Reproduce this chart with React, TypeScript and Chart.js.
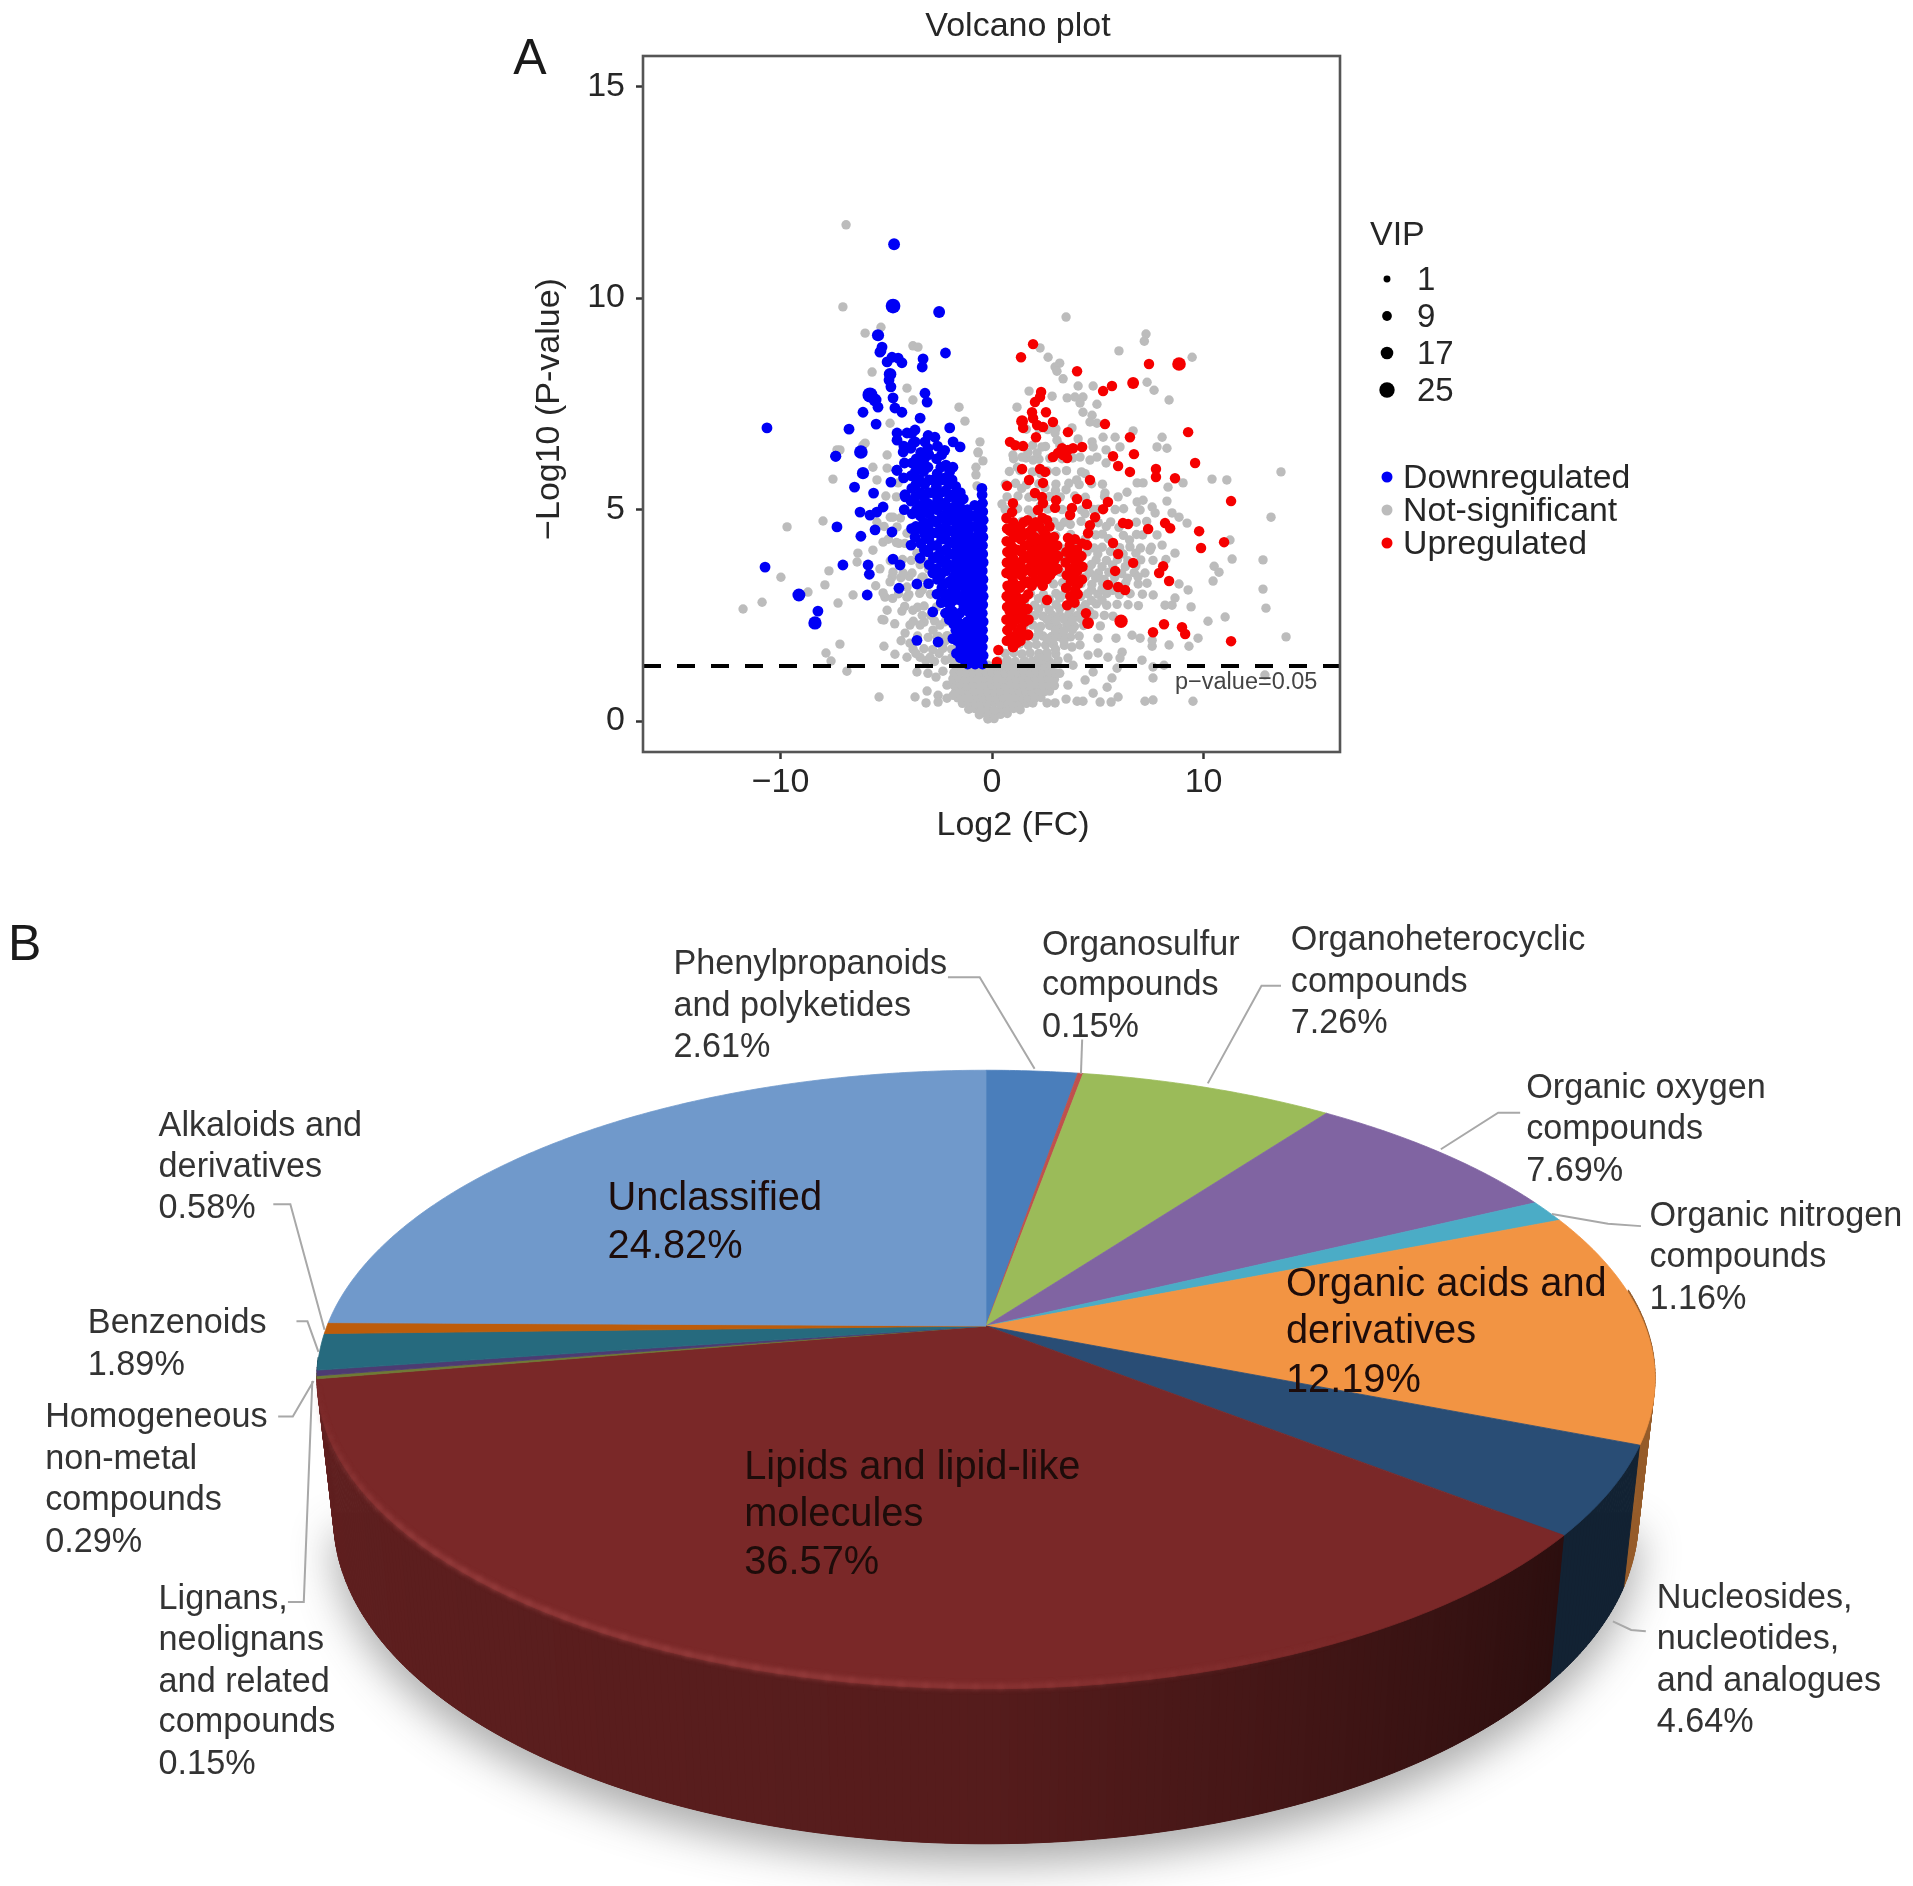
import React, { useEffect, useRef } from "react";
import { Chart, registerables } from "chart.js";

Chart.register(...registerables);

// ---------- Panel A data: flat lists of x, y pairs ----------
const notSignificant = [
-.2,.05,.1,.06,-.6,.15,-.25,.17,.12,.14,.4,.16,.72,.18,-1.1,.28,-.82,.3,-.5,.27,-.2,.29,.1,.26,.42,.3,.7,.28,1.02,.3,1.33,.27,
-1.4,.42,-1.12,.44,-.78,.41,-.5,.43,-.22,.42,.11,.44,.4,.41,.73,.43,1,.42,1.31,.44,1.62,.42,1.93,.43,
-1.62,.55,-1.3,.57,-1.01,.54,-.7,.56,-.41,.55,-.1,.57,.2,.55,.52,.56,.8,.54,1.1,.57,1.42,.55,1.7,.56,2.02,.54,2.31,.56,
-1.72,.7,-1.4,.72,-1.1,.69,-.8,.71,-.5,.7,-.2,.72,.1,.7,.4,.71,.7,.69,1,.72,1.3,.7,1.6,.71,1.9,.69,2.2,.72,2.5,.7,2.72,.71,
-1.8,.85,-1.5,.87,-1.2,.84,-.9,.86,-.6,.85,-.3,.87,0,.85,.3,.86,.6,.84,.9,.87,1.2,.85,1.5,.86,1.8,.84,2.1,.87,2.4,.85,2.7,.86,2.95,.84,
-1.85,1,-1.55,1.02,-1.25,.99,-.95,1.01,-.65,1,-.35,1.02,-.05,1,.25,1.01,.55,.99,.85,1.02,1.15,1,1.45,1.01,1.75,.99,2.05,1.02,2.35,1,2.65,1.01,2.95,.99,
-1.8,1.15,-1.5,1.17,-1.2,1.14,-.9,1.16,-.6,1.15,-.3,1.17,0,1.15,.3,1.16,.6,1.14,.9,1.17,1.2,1.15,1.5,1.16,1.8,1.14,2.1,1.17,2.4,1.15,2.7,1.16,3,1.14,
-1.7,1.3,-1.4,1.31,-1.1,1.29,-.2,1.32,.1,1.3,.4,1.31,.7,1.29,1,1.32,1.3,1.3,1.6,1.31,1.9,1.29,2.2,1.32,2.5,1.3,2.8,1.31,
.3,1.42,.72,1.44,1.1,1.41,1.53,1.43,1.9,1.42,2.3,1.44,2.71,1.41,3.12,1.43,.62,1.6,1.03,1.62,1.41,1.59,1.8,1.61,2.22,1.6,2.6,1.62,3.01,1.59,
.93,1.8,1.3,1.82,1.72,1.79,2.1,1.81,2.53,1.8,2.9,1.82,3.42,1.79,1.2,2.02,1.62,2,2.03,1.98,2.41,2.01,2.82,2,3.33,2.02,3.71,1.99,4.12,2.01,
1.51,2.25,1.93,2.27,2.3,2.24,2.72,2.26,3.1,2.25,3.53,2.27,3.9,2.24,4.33,2.26,5.12,2.25,1.6,2.52,2.02,2.5,2.41,2.48,2.83,2.51,3.2,2.5,3.62,2.52,4.01,2.49,4.82,2.51,5.31,2.5,5.72,2.48,
1.53,2.76,2.01,2.74,2.52,2.77,3.03,2.75,3.51,2.73,3.92,2.76,4.41,2.75,4.93,2.77,5.42,2.74,5.91,2.76,6.43,2.75,6.92,2.73,
1.82,3.01,2.43,2.99,3.02,3.02,3.41,3,4.03,2.98,4.52,3.01,5.01,3,5.43,3.02,6.02,2.99,6.53,3.01,7.11,3,7.62,2.98,
2.22,3.26,2.91,3.24,3.33,3.27,4.21,3.25,4.72,3.23,5.23,3.26,5.71,3.25,6.32,3.27,6.91,3.24,7.33,3.26,
2.52,3.5,3.23,3.52,4.02,3.49,4.61,3.51,5.03,3.5,5.52,3.52,6.13,3.49,6.72,3.51,7.23,3.5,
3.01,3.8,3.42,3.82,4.13,3.79,4.92,3.81,5.41,3.8,5.93,3.82,6.42,3.79,7.03,3.81,7.61,3.8,8.22,3.82,
3.22,4.1,3.91,4.12,4.83,4.09,5.21,4.11,6.03,4.1,6.52,4.12,7.02,4.09,7.53,4.11,
1.52,4.4,2.23,4.42,3.01,4.39,3.72,4.41,4.91,4.4,5.22,4.42,6.21,4.39,6.83,4.41,7.12,4.4,
.83,4.7,1.41,4.72,2.42,4.69,2.93,4.71,3.42,4.7,4.21,4.72,5.02,4.69,5.61,4.71,6.82,4.7,7.31,4.72,
.62,5,1.21,5.02,1.72,4.99,2.63,5.01,3.31,5,3.72,5.02,4.23,4.99,5.03,5.01,5.82,5,6.22,5.02,
.71,5.3,1.23,5.32,1.74,5.29,2.72,5.31,3.23,5.3,3.91,5.32,4.41,5.29,5.32,5.31,
.63,5.6,1.11,5.62,1.63,5.59,2.21,5.61,3.02,5.6,3.63,5.62,4.12,5.59,4.71,5.61,5.22,5.6,
.82,5.9,1.33,5.92,1.91,5.89,2.62,5.91,3.03,5.9,3.52,5.92,4.23,5.89,1.02,6.2,1.61,6.22,2.22,6.19,2.73,6.21,3.31,6.2,3.82,6.22,
1.33,6.5,1.92,6.52,2.53,6.49,3.21,6.51,1.62,6.9,2.21,6.92,2.63,6.89,3.02,6.91,
-1.82,1.42,-2.21,1.44,-2.72,1.41,-3.13,1.43,-1.91,1.7,-2.32,1.72,-2.81,1.69,-3.22,1.71,-3.73,1.7,-2.12,2.02,-2.53,2,-3.02,1.98,-3.52,2.01,
-2.21,2.35,-2.72,2.37,-3.21,2.34,-3.72,2.36,-2.62,2.7,-3.21,2.72,-3.52,2.69,-4.13,2.71,-2.91,3,-3.42,3.02,-3.93,2.99,-4.42,3.01,
-3.31,3.4,-3.92,3.42,-4.31,3.39,-4.72,3.41,-3.82,3.8,-4.23,3.82,-4.81,3.79,-4.12,4.2,-4.52,4.22,-4.33,4.8,-4.81,4.82,-4.52,5.3,-5.02,5.32,
3.5,9.55,7.28,9.15,7.2,8.98,6,8.75,9.46,8.6,2.27,8.82,2.65,8.6,3.2,8.46,2.98,8.37,3.07,8.27,3.36,8.09,4.07,7.92,4.78,7.92,7.33,8.01,7.66,7.82,8.37,7.59,
1.75,7.8,2.84,7.68,1.18,7.42,3.55,7.64,3.92,7.66,4.3,7.66,4.16,7.52,4.96,7.49,4.3,7.3,4.73,7.23,4.63,7.07,4.96,7.04,2.98,6.81,3.07,6.64,3.78,6.93,4.07,6.67,
4.73,6.6,4.78,6.48,5.25,6.71,5.82,6.71,6.05,6.48,6.67,6.86,8.04,6.71,7.8,6.48,8.27,6.45,5.39,6.41,4.96,6.24,4.63,6.17,5.39,6.1,4.16,6.24,.99,6.29,1.42,6.24,1.94,6.17,2.36,6.48,2.13,6.34,
10.4,5.72,11.1,5.7,13.66,5.89,9.03,5.63,8.32,5.53,6.86,5.63,7.14,5.63,6.38,5.41,5.96,5.3,5.34,5.39,8.27,5.2,13.19,4.82,.47,5.13,6.86,5.18,7.14,5.22,7.57,5.06,7,4.99,7.71,4.92,
8.51,4.92,8.84,4.82,9.22,4.68,7.8,4.4,8.04,4.16,11.25,4.28,8.65,3.97,7.47,4.04,12.81,3.81,11.35,3.83,10.5,3.66,10.73,3.52,10.45,3.31,12.81,3.12,12.95,2.67,
9.27,3.1,8.84,3.24,9.41,2.7,8.65,2.91,8.51,2.74,8.18,2.74,10.21,2.36,11.02,2.46,9.74,1.96,9.31,1.77,8.37,1.8,7.57,1.77,7.57,1.91,13.9,1.99,7,1.96,6.62,2.03,5.86,1.96,5.01,1.96,
7.09,1.44,6.15,1.63,6.05,1.49,5.48,1.51,5.01,1.61,4.54,1.56,5.91,1.25,7.61,1.28,8.13,1.32,12.9,1.09,7.61,1.02,7.23,.47,7.61,.5,9.5,.47,5.96,.57,5.63,.45,5.11,.45,4.78,.66,4.3,.47,4.02,.47,
5.44,.8,5.67,1.02,4.78,1.16,4.4,.97,3.59,.85,3.5,.52,2.98,.43,2.6,.43,3.2,1.13,3.78,1.75,4.16,1.8,3.59,1.49,3.83,1.32,3.2,1.99,2.88,1.96,
-7.52,5.72,-7.99,4.73,-9.69,4.59,-9.98,3.4,-10.87,2.81,-11.77,2.65,-7.71,3.55,-7.9,3.22,-8.7,3.05,-7.28,2.79,-6.57,2.98,-7.19,1.82,-7.85,1.61,-7.61,1.42,-6.86,1.18,
-5.11,2.39,-5.11,1.77,-4.59,1.58,-4.26,2.6,-5.34,.57,-3.64,.57,-3.12,.43,-3.07,.71,-2.55,.61,-2.55,.45,-2.13,.54,-1.84,.61,-2.13,.85,-3.55,1.16,-3.03,1.13,-2.65,1.04,-2.32,1.18,
-6.34,3.97,-6.38,3.76,-5.63,4.04,-5.15,4.23,-5.06,2.93,-4.96,2.62,-5.15,3.03,-4.82,3.29,-4.68,3.52,-3.78,3.5,-4.02,2.93,-3.74,2.62,-4.02,3.17,-3.26,3.4,-3.07,3.74,-3.88,2.27,-3.4,2.27,-4.11,2.08,-3.88,1.84,-2.79,2.15,-2.46,2.27,-3.4,1.51,-4.02,1.51,-2.93,1.51,-2.32,1.84,
-4.68,4.82,-4.49,4.59,-4.02,4.44,-3.55,3.97,-5.44,4.7,-4.96,6.29,-5.63,6,-4.96,5.98,-7.19,6.41,-6.1,6.52,-.66,6.34,-.43,6.15,-.76,5.82,
-6.9,11.73,-7.05,9.79,-6,9.17,-5.25,9.31,-3.74,8.87,-3.5,8.84,-5.67,8.25,-4.02,7.87,-3.74,7.59,-1.56,7.42,-1.28,7.09,-.57,6.6,-.66,6.36,-.76,6,-.71,5.56,-6,6.57,-5.44,5.7,-4.44,5.63,-7.33,6.41,-4.82,7.04,
2.2,1.5,2.6,1.52,3,1.7,3.4,1.9,2.6,1.95,3,2.15,3.4,2.13,3.8,2.16,2.2,2.14,2.6,2.4,3,2.38,3.4,2.41,3.8,2.39,4.2,2.42,4.6,2.6,2.2,2.65,2.7,2.63,3.2,2.66,3.7,2.64,4.2,2.65,4.7,2.85,5.2,2.86,2.2,2.9,2.7,2.88,3.2,2.91,4.2,2.95,4.7,3.1,5.2,3.12,5.7,3.09,6.2,3.11,
4.4,3.4,4.9,3.38,5.3,3.35,5.8,3.4,6.4,3.38,6.9,3.41,4.7,3.7,5.2,3.65,5.7,3.69,6.3,3.65,6.8,3.67,4.5,4,5,3.95,5.6,4.01,6.2,3.95,6.8,3.97,4.4,4.3,5.5,4.31,6.5,4.28,4.6,4.55,5.4,4.6,6,4.58,3.2,4.6,3.7,4.65,4.4,4.9,4.8,5,1.9,4.9,2.3,5.1,3,5.45,3.5,5.47,1.4,5.5,2,5.3,2.5,5.52,4,5.7,4.4,5.85,1.2,6,2.3,5.85,1.7,6.35,
-5.5,3.2,-5.3,3.6,-5.2,2.4,-4.6,2.3,-4.3,1.9,-3.6,1.6,-4.9,4.3,-5.1,4.6,-4.4,4.2,-4.7,2.9,-4.2,3.5,-3.3,3.1,-2.6,2,-2.9,2.5,-3.3,2.5,-2.5,1.6,-3,3.6,-3.4,3.7,-2.2,1.9,-1.9,1.5,
];

const downregulated = [
-.45,1.35,-.42,1.55,-.46,1.75,-.43,1.95,-.45,2.15,-.42,2.35,-.46,2.55,-.44,2.75,-.42,2.95,-.45,3.15,-.43,3.35,-.46,3.55,-.42,3.75,-.44,3.95,-.45,4.15,-.43,4.35,-.46,4.55,-.42,4.75,-.44,4.95,-.45,5.15,-.47,5.35,-.48,5.5,
-.8,1.35,-.78,1.6,-.82,1.85,-.79,2.1,-.81,2.35,-.78,2.6,-.83,2.85,-.8,3.1,-.77,3.35,-.82,3.6,-.79,3.85,-.81,4.1,-.78,4.35,-.83,4.6,-.8,4.85,-.82,5.1,
-1.15,1.35,-1.12,1.6,-1.18,1.85,-1.14,2.1,-1.17,2.35,-1.13,2.6,-1.19,2.85,-1.15,3.1,-1.12,3.4,-1.18,3.65,-1.14,3.9,-1.17,4.2,-1.13,4.45,-1.19,4.75,-1.16,5,
-1.5,1.5,-1.47,1.75,-1.53,2,-1.49,2.3,-1.52,2.55,-1.48,2.85,-1.54,3.2,-1.5,3.45,-1.47,3.7,-1.53,3.95,-1.49,4.25,-1.52,4.5,-1.48,4.8,-1.54,5.1,-1.5,5.4,
-1.85,1.95,-1.82,2.3,-1.88,2.6,-1.84,2.85,-1.87,3.1,-1.83,3.4,-1.89,3.65,-1.85,3.95,-1.82,4.2,-1.88,4.5,-1.84,4.8,-1.87,5.05,-1.83,5.35,-1.89,5.7,-1.85,6,
-2.2,2.55,-2.17,2.95,-2.23,3.25,-2.19,3.55,-2.22,3.8,-2.18,4.05,-2.24,4.35,-2.2,4.6,-2.17,4.9,-2.23,5.15,-2.19,5.45,-2.22,5.75,-2.18,6.05,-2.24,6.4,
-2.6,3,-2.57,3.35,-2.63,3.6,-2.59,3.9,-2.62,4.15,-2.58,4.45,-2.64,4.7,-2.6,5,-2.57,5.25,-2.63,5.55,-2.59,5.85,-2.62,6.2,-2.58,6.5,
-3,3.25,-2.97,3.7,-3.03,4,-2.99,4.3,-3.02,4.6,-2.98,4.9,-3.04,5.15,-3,5.4,-2.97,5.7,-3.03,6,-2.99,6.3,-3.02,6.75,
-3.4,3.85,-3.37,4.2,-3.43,4.55,-3.39,4.85,-3.42,5.1,-3.38,5.4,-3.44,5.7,-3.4,6,-3.37,6.35,
-3.8,4.55,-3.77,4.9,-3.83,5.2,-3.79,5.5,-3.82,5.8,-3.78,6.1,-3.84,6.45,-3.8,6.8,-4.15,5,-4.12,5.35,-4.18,5.75,-4.14,6.1,-4.17,6.5,
-.62,1.45,-.6,1.7,-.64,1.95,-.61,2.2,-.63,2.45,-.6,2.7,-.64,2.95,-.62,3.2,-.6,3.45,-.63,3.7,-.61,3.95,-.64,4.2,-.6,4.45,-.62,4.7,-.63,4.95,
-.98,1.5,-.96,1.75,-1,2,-.97,2.25,-.99,2.5,-.96,2.75,-1.01,3,-.98,3.25,-.95,3.55,-1,3.8,-.97,4.05,-.99,4.3,-.96,4.6,-1.01,4.85,
-1.32,1.45,-1.3,1.7,-1.35,1.95,-1.31,2.2,-1.33,2.7,-1.3,3,-1.36,3.3,-1.32,3.55,-1.29,3.85,-1.35,4.1,-1.31,4.4,-1.33,4.65,-1.3,4.95,-1.36,5.25,
-1.68,1.6,-1.65,1.9,-1.71,2.15,-1.67,2.45,-1.7,3,-1.66,3.3,-1.72,3.55,-1.68,3.85,-1.65,4.1,-1.71,4.4,-1.67,4.65,-1.7,4.95,-1.66,5.2,-1.72,5.55,
-2.02,2.4,-2,2.75,-2.05,3,-2.01,3.3,-2.04,3.7,-2,3.95,-2.06,4.25,-2.02,4.5,-1.99,4.75,-2.05,5,-2.01,5.3,-2.04,5.6,-2,5.9,
-2.4,2.8,-2.37,3.15,-2.43,3.45,-2.39,3.75,-2.42,4,-2.38,4.3,-2.44,4.55,-2.4,4.8,-2.37,5.1,-2.43,5.4,-2.39,5.7,-2.42,6,-2.38,6.3,
-2.8,3.5,-2.77,3.85,-2.83,4.15,-2.79,4.45,-2.82,4.75,-2.78,5.1,-2.84,5.4,-2.8,5.7,
-3.2,4.05,-3.17,4.4,-3.23,4.7,-3.19,5,-3.22,5.3,-3.18,5.6,-3.24,5.9,-3.2,6.2,-3.17,6.6,
-3.6,4.6,-3.57,5,-3.63,5.3,-3.59,5.6,-3.62,5.9,-3.58,6.2,-3.64,6.6,
-2.2,8.7,-5.25,8.75,-5.2,8.84,-5.3,8.72,-4.96,8.49,-4.73,8.6,-4.44,8.58,-4.26,8.47,-3.26,8.56,-3.3,8.37,-4.87,8.06,-4.78,7.9,-5.39,7.42,-6.1,7.3,-5.48,7.02,-6.76,6.9,-10.64,6.93,-4.68,7.64,-4.59,7.4,-4.26,7.3,-3.17,7.75,-3.07,7.54,-3.4,7.16,-2,6.93,
-4.49,6.81,-4.02,6.81,-3.64,6.88,-4.49,6.64,-3.73,6.57,-2.7,6.71,-3.03,6.45,-1.84,6.6,-1.51,6.48,-7.38,6.26,-4.2,6.36,-4.49,5.93,-7.4,6.26,-6.5,5.53,-5.6,5.39,-5.15,5.06,-5.45,4.94,-5.77,4.87,-6.24,4.94,-4.78,5.65,-4.5,5.93,-4.1,5.3,-7.33,4.59,-6.2,4.37,-5.53,4.52,-4.73,4.47,-7.05,3.69,-10.73,3.64,-5.86,3.69,-5.8,3.47,-4.68,3.83,-4.35,3.69,-8.23,2.6,-5.9,2.98,-4.4,3.14,-3.55,3.24,-3.55,1.91,-2.55,1.87,-2.8,2.58,-3.83,4.16,-3.64,4.35,
];

const downregulatedLarge = [-4.63,11.27,15,-4.68,9.81,23,-2.5,9.67,15,-5.39,9.12,16,-4.82,8.2,17,-5.77,7.71,24,-5.53,7.59,18,-6.2,6.36,20,-6.1,5.86,16,-9.13,2.98,18,-8.37,2.32,19];

const upregulated = [
.3,1.68,.23,1.4,.99,1.75,1.23,1.91,1.7,2.03,
.7,1.9,.72,2.15,.68,2.4,.71,2.7,.69,2.95,.73,3.2,.68,3.5,.7,3.75,.72,4,.69,4.25,.71,4.55,.68,4.8,
1,1.75,1.03,2,.98,2.3,1.01,2.5,.97,2.8,1.02,3.05,.99,3.3,1.03,3.6,1,3.85,.98,4.1,1.02,4.4,1,4.7,
1.35,1.9,1.38,2.2,1.33,2.5,1.36,2.75,1.32,3.15,1.37,3.45,1.34,3.7,1.38,4,1.35,4.3,1.33,4.55,
1.7,2.05,1.73,2.4,1.68,2.65,1.71,3,1.67,3.3,1.72,3.6,1.69,3.9,1.73,4.15,1.7,4.45,1.68,4.75,
2.05,3.35,2.08,3.6,2.03,3.85,2.06,4.1,2.02,4.35,2.07,4.7,2.4,3.2,2.43,3.45,2.38,3.7,2.41,3.95,2.37,4.2,2.42,4.5,2.39,4.8,
2.75,3.45,2.78,3.7,2.73,3.95,2.76,4.25,2.72,4.6,3.1,3.6,3.13,3.9,3.08,4.15,2.6,2.86,3.55,2.74,
3.5,3.15,3.53,3.45,3.48,3.75,3.51,4,3.9,2.8,3.93,3.1,3.88,3.4,3.91,3.65,3.87,3.95,3.92,4.3,4.25,3.35,4.28,3.65,4.23,3.9,4.26,4.2,
.85,1.95,.87,2.25,.83,2.6,.86,2.85,.84,3.1,.88,3.45,.83,3.7,.85,3.95,.87,4.2,.84,4.5,
1.18,1.85,1.2,2.1,1.16,2.4,1.19,2.65,1.15,2.95,1.2,3.2,1.17,3.5,1.21,3.75,1.18,4.05,1.16,4.35,1.2,4.6,
1.52,2.05,1.55,2.35,1.5,2.6,1.53,2.9,1.49,3.25,1.54,3.55,1.51,3.85,1.55,4.15,1.52,4.4,1.5,4.7,
1.88,3.2,1.91,3.5,1.86,3.75,1.89,4,1.85,4.25,1.9,4.55,2.22,3.3,2.25,3.55,2.2,3.8,2.23,4.05,2.19,4.3,2.24,4.6,
2.58,3.35,2.61,3.6,2.56,3.85,2.59,4.1,2.55,4.4,2.6,4.75,2.92,3.55,2.95,3.8,2.9,4.05,2.93,4.35,
3.7,2.95,3.73,3.3,3.68,3.6,3.71,3.85,3.67,4.15,4.05,3,4.08,3.25,4.03,3.55,4.06,3.8,4.02,4.05,
1.94,8.91,1.37,8.6,4.02,8.27,7.42,8.44,5.67,7.92,5.25,7.8,2.32,7.78,2.27,7.66,2.03,7.54,1.89,7.3,1.94,7.16,2.13,7,2.41,6.95,2.55,7.3,2.88,7.07,1.47,6.93,5.34,7.02,3.59,6.83,2.08,6.71,.85,6.6,1.09,6.52,1.47,6.5,6.52,6.71,9.27,6.83,6.71,6.31,5.72,6.26,5.96,6.03,9.6,6.1,6.52,5.89,7.75,5.96,7.75,5.77,8.65,5.74,
3.31,6.45,3.59,6.41,3.36,6.29,3.12,6.34,2.88,6.24,3.55,6.22,4.26,6.48,3.83,6.45,1.42,5.96,2.27,5.96,2.51,5.89,1.75,5.7,2.41,5.63,4.63,5.7,.71,5.56,11.3,5.2,5.48,5.18,4.49,5.13,5.25,5.01,4.02,5.25,3.03,5.22,2.98,5.04,2.03,5.39,2.36,5.3,2.41,5.15,2.17,4.99,.99,5.15,.95,4.94,3.78,5.04,3.69,4.87,4.87,4.82,4.63,4.63,4.54,4.44,4.49,4.16,6.19,4.68,6.43,4.66,7.38,4.54,8.18,4.68,8.42,4.56,9.79,4.49,10.97,4.23,9.88,4.09,5.72,4.21,3.59,4.33,
6.67,3.74,5.96,3.95,5.82,3.55,8.09,3.66,7.9,3.5,8.37,3.31,5.48,3.22,5.96,3.17,6.29,3.1,4.44,2.55,8.13,2.29,7.61,2.1,8.98,2.22,9.13,2.06,11.3,1.89,
];

const upregulatedLarge = [8.84,8.44,20,6.67,7.99,15,1.42,7.09,15,4.54,2.32,15,6.1,2.36,19];

const xTickValues = [-10, 0, 10];
const yTickValues = [0, 5, 10, 15];
const vipLevels = ["1", "9", "17", "25"];
const vipValues = [1, 9, 17, 25];
const groupNames = ["Downregulated", "Not-significant", "Upregulated"];
const groupColors = ["#0000f5", "#bcbcbc", "#f50000"];
const pValueLine = 1.3;

// ---------- Panel B data ----------
const pieCategories = [
  "Phenylpropanoids and polyketides", "Organosulfur compounds", "Organoheterocyclic compounds",
  "Organic oxygen compounds", "Organic nitrogen compounds", "Organic acids and derivatives",
  "Nucleosides, nucleotides, and analogues", "Lipids and lipid-like molecules",
  "Lignans, neolignans and related compounds", "Homogeneous non-metal compounds",
  "Benzenoids", "Alkaloids and derivatives", "Unclassified",
];
const pieValues = [2.61, 0.15, 7.26, 7.69, 1.16, 12.19, 4.64, 36.57, 0.15, 0.29, 1.89, 0.58, 24.82];
const pieColors = ["#4a7ebb", "#c0504d", "#9bbb59", "#8064a2", "#4bacc6", "#f29443", "#294d75", "#7a2828", "#6f7a35", "#4d3b72", "#266a7e", "#bd5c0a", "#7099cb"];

const FONT = '"Liberation Sans", Arial, sans-serif';
const D = 1913 / 1568; // the layout notes below are in 1568-wide units

const VIP_R = (v: number) => 3.3 + (4.4 * v) / 25;

const pairs = (flat: number[], vip: number) => {
  const out: { x: number; y: number; vip: number }[] = [];
  for (let i = 0; i + 1 < flat.length; i += 2) out.push({ x: flat[i], y: flat[i + 1], vip });
  return out;
};
const triples = (flat: number[]) => {
  const out: { x: number; y: number; vip: number }[] = [];
  for (let i = 0; i + 2 < flat.length; i += 3) out.push({ x: flat[i], y: flat[i + 1], vip: flat[i + 2] });
  return out;
};

const VOLC_LEFT = 500;
const PIE_TOP = 860;

const volcanoPlugin = {
  id: "volcanoDecor",
  afterDatasetsDraw(chart: any) {
    const { ctx, chartArea: a, scales } = chart;
    const yy = scales.y.getPixelForValue(pValueLine);
    ctx.save();
    ctx.strokeStyle = "#000";
    ctx.lineWidth = 4;
    ctx.setLineDash([18, 16]);
    ctx.beginPath();
    ctx.moveTo(a.left, yy);
    ctx.lineTo(a.right, yy);
    ctx.stroke();
    ctx.setLineDash([]);
    ctx.strokeStyle = "#555";
    ctx.lineWidth = 2.6;
    ctx.strokeRect(a.left, a.top, a.right - a.left, a.bottom - a.top);
    ctx.restore();
  },
  afterDraw(chart: any) {
    const { ctx } = chart;
    const text = (s: string, x: number, y: number, size: number, align: any = "left", color = "#262626") => {
      ctx.font = `${size}px ${FONT}`;
      ctx.fillStyle = color;
      ctx.textAlign = align;
      ctx.textBaseline = "middle";
      ctx.fillText(s, x - VOLC_LEFT, y);
    };
    ctx.save();
    text("Volcano plot", 1018, 27, 34, "center");
    text("Log2 (FC)", 1013, 826, 34, "center");
    text("A", 530, 60, 50, "center", "#1a1a1a");
    text("p\u2212value=0.05", 1175, 683, 23.5, "left", "#444");
    ctx.translate(550 - VOLC_LEFT, 409);
    ctx.rotate(-Math.PI / 2);
    ctx.font = `34px ${FONT}`;
    ctx.fillStyle = "#262626";
    ctx.textAlign = "center";
    ctx.textBaseline = "middle";
    ctx.fillText("\u2212Log10 (P-value)", 0, 0);
    ctx.restore();
    ctx.save();
    text("VIP", 1370, 236, 34);
    const vy = [279, 316, 353, 390];
    vipLevels.forEach((l, i) => {
      ctx.beginPath();
      ctx.fillStyle = "#000";
      ctx.arc(1387 - VOLC_LEFT, vy[i], VIP_R(vipValues[i]), 0, Math.PI * 2);
      ctx.fill();
      text(l, 1417, vy[i] + 2, 33);
    });
    const gy = [477, 510, 543];
    groupNames.forEach((g, i) => {
      ctx.beginPath();
      ctx.fillStyle = groupColors[i];
      ctx.arc(1387 - VOLC_LEFT, gy[i], 5.5, 0, Math.PI * 2);
      ctx.fill();
      text(g, 1403, gy[i] + 2, 33.8);
    });
    ctx.restore();
  },
};

// ---- projection of the pie disc into a perspective view ----
const CX = 986, CY = 1326 - PIE_TOP, RX = 659, RY = 300, K = 0.173, BOTTOM_X = 0.975;
const proj = (t: number) => {
  const u = Math.sin(t), v = -Math.cos(t), w = 1 - K * v;
  return { x: CX + (RX * u) / w, y: CY + (RY * v) / w, v };
};
const projBottom = (t: number) => {
  const p = proj(t);
  return { x: CX + (p.x - CX) * BOTTOM_X, y: p.y + 135 + 20 * p.v };
};
const shade = (hex: string, f: number) => {
  const n = parseInt(hex.slice(1), 16);
  const c = (s: number) => Math.min(255, Math.round(((n >> s) & 255) * f));
  return `rgb(${c(16)},${c(8)},${c(0)})`;
};
const wallFactor = (t: number) => {
  const deg = (t * 180) / Math.PI;
  if (deg < 111.8) return 0.62;
  if (deg < 128.5) return 0.44;
  if (deg < 180) return 0.36 + ((deg - 128.5) / 51.5) * 0.34;
  if (deg < 261) return 0.7 + ((deg - 180) / 81) * 0.09;
  return 0.75;
};

const pie3dPlugin = {
  id: "pie3d",
  beforeDatasetDraw(chart: any, args: any) {
    const { ctx } = chart;
    const arcs = chart.getDatasetMeta(args.index).data;
    const colors = chart.data.datasets[args.index].backgroundColor;
    const STEP = Math.PI / 300;
    ctx.save();
    // soft floor shadow
    ctx.save();
    ctx.shadowColor = "rgba(70,70,70,0.45)";
    ctx.shadowBlur = 42;
    ctx.shadowOffsetY = 20;
    ctx.fillStyle = "#5a1c1a";
    ctx.beginPath();
    for (let t = Math.PI * 0.55; t < Math.PI * 1.45; t += STEP) {
      const p = projBottom(t);
      if (t === Math.PI * 0.55) ctx.moveTo(p.x, p.y);
      else ctx.lineTo(p.x, p.y);
    }
    ctx.closePath();
    ctx.fill();
    ctx.restore();
    // side wall strips, back to front
    const strips: any[] = [];
    arcs.forEach((arc: any, i: number) => {
      const a0 = arc.startAngle + Math.PI / 2, a1 = arc.endAngle + Math.PI / 2;
      for (let t = a0; t < a1; t += STEP) {
        const e = Math.min(t + STEP, a1);
        const v = proj(t).v;
        const limit = t < Math.PI ? -0.12 : 0.12;
        if (v < limit) continue;
        strips.push({ t, e, i, v });
      }
    });
    strips.sort((a, b) => a.v - b.v);
    for (const s of strips) {
      const p0 = proj(s.t), p1 = proj(s.e), b0 = projBottom(s.t), b1 = projBottom(s.e);
      const col = shade(colors[s.i], wallFactor(s.t));
      ctx.fillStyle = col;
      ctx.strokeStyle = col;
      ctx.lineWidth = 1;
      ctx.beginPath();
      ctx.moveTo(p0.x, p0.y - 3);
      ctx.lineTo(p1.x, p1.y - 3);
      ctx.lineTo(b1.x, b1.y);
      ctx.lineTo(b0.x, b0.y);
      ctx.closePath();
      ctx.fill();
      ctx.stroke();
    }
    // top surface
    arcs.forEach((arc: any, i: number) => {
      const a0 = arc.startAngle + Math.PI / 2, a1 = arc.endAngle + Math.PI / 2;
      ctx.fillStyle = colors[i];
      ctx.strokeStyle = colors[i];
      ctx.lineWidth = 0.8;
      ctx.beginPath();
      ctx.moveTo(CX, CY);
      for (let t = a0; t < a1; t += STEP) {
        const p = proj(t);
        ctx.lineTo(p.x, p.y);
      }
      const pe = proj(a1);
      ctx.lineTo(pe.x, pe.y);
      ctx.closePath();
      ctx.fill();
      ctx.stroke();
    });
    // bevel highlight along the front rim
    ctx.save();
    ctx.filter = "blur(2.5px)";
    ctx.lineCap = "round";
    arcs.forEach((arc: any, i: number) => {
      const a0 = arc.startAngle + Math.PI / 2, a1 = arc.endAngle + Math.PI / 2;
      for (let t = a0; t < a1; t += STEP * 3) {
        const deg = (t * 180) / Math.PI;
        if (deg < 128 || deg > 258) continue;
        const alpha = Math.min(1, Math.max(0, (deg - 150) / 40), Math.max(0, (258 - deg) / 30)) * 0.7;
        if (alpha <= 0) continue;
        const p0 = proj(t), p1 = proj(Math.min(t + STEP * 3, a1));
        ctx.strokeStyle = `rgba(160,68,68,${alpha})`;
        ctx.lineWidth = 5;
        ctx.beginPath();
        ctx.moveTo(p0.x, p0.y - 2);
        ctx.lineTo(p1.x, p1.y - 2);
        ctx.stroke();
      }
    });
    ctx.restore();
    ctx.restore();
    return false;
  },
  afterDraw(chart: any) {
    const { ctx } = chart;
    const dy = PIE_TOP;
    const lines = (rows: string[], x: number, ys: number[], size: number, color: string) => {
      ctx.font = `${size}px ${FONT}`;
      ctx.fillStyle = color;
      ctx.textAlign = "left";
      ctx.textBaseline = "middle";
      rows.forEach((r, i) => ctx.fillText(r, x * D, (ys[i] + 2) * D - dy));
    };
    const small = "#333";
    const big = "#1d0c0a";
    ctx.save();
    lines(["Phenylpropanoids", "and polyketides", "2.61%"], 552, [789, 823, 857], 34.2, small);
    lines(["Organosulfur", "compounds", "0.15%"], 854, [773, 806, 840], 34.2, small);
    lines(["Organoheterocyclic", "compounds", "7.26%"], 1058, [769, 803, 837], 34.2, small);
    lines(["Organic oxygen", "compounds", "7.69%"], 1251, [890, 924, 958], 34.2, small);
    lines(["Organic nitrogen", "compounds", "1.16%"], 1352, [995, 1029, 1063], 34.2, small);
    lines(["Nucleosides,", "nucleotides,", "and analogues", "4.64%"], 1358, [1308, 1342, 1376, 1410], 34.2, small);
    lines(["Alkaloids and", "derivatives", "0.58%"], 130, [921, 955, 989], 34.2, small);
    lines(["Benzenoids", "1.89%"], 72, [1083, 1117], 34.2, small);
    lines(["Homogeneous", "non-metal", "compounds", "0.29%"], 37, [1160, 1194, 1228, 1262], 34.2, small);
    lines(["Lignans,", "neolignans", "and related", "compounds", "0.15%"], 130, [1309, 1343, 1377, 1410, 1444], 34.2, small);
    lines(["Unclassified", "24.82%"], 498, [981, 1020], 39.8, big);
    lines(["Organic acids and", "derivatives", "12.19%"], 1054, [1051, 1090, 1130], 39.8, big);
    lines(["Lipids and lipid-like", "molecules", "36.57%"], 610, [1201, 1240, 1279], 39.8, big);
    ctx.font = `50px ${FONT}`;
    ctx.fillStyle = "#1a1a1a";
    ctx.fillText("B", 8, 946 - dy);
    // leader lines
    ctx.strokeStyle = "#a8a8a8";
    ctx.lineWidth = 2;
    const leaders: number[][] = [
      [777, 801, 803, 801, 848, 876],
      [887, 852, 886, 880],
      [1050, 808, 1034, 808, 990, 888],
      [1246, 912, 1228, 912, 1181, 942],
      [1345, 1005, 1318, 1003, 1272, 995],
      [1349, 1337, 1337, 1336, 1322, 1329],
      [224, 987, 238, 987, 266, 1090],
      [243, 1083, 252, 1083, 261, 1108],
      [228, 1161, 240, 1161, 257, 1132],
      [236, 1313, 249, 1313, 256, 1132],
    ];
    leaders.forEach((l) => {
      ctx.beginPath();
      ctx.moveTo(l[0] * D, l[1] * D - dy);
      for (let i = 2; i < l.length; i += 2) ctx.lineTo(l[i] * D, l[i + 1] * D - dy);
      ctx.stroke();
    });
    ctx.restore();
  },
};

export default function App() {
  const volcRef = useRef<HTMLCanvasElement>(null);
  const pieRef = useRef<HTMLCanvasElement>(null);

  useEffect(() => {
    const radius = (c: any) => (c.raw ? VIP_R(c.raw.vip) : 4.6);
    const volcano = new Chart(volcRef.current!, {
      type: "scatter",
      data: {
        datasets: [
          { label: groupNames[2], data: [...pairs(upregulated, 11), ...triples(upregulatedLarge)], backgroundColor: groupColors[2], order: 1 },
          { label: groupNames[0], data: [...pairs(downregulated, 12), ...triples(downregulatedLarge)], backgroundColor: groupColors[0], order: 2 },
          { label: groupNames[1], data: pairs(notSignificant, 8), backgroundColor: groupColors[1], order: 3 },
        ],
      },
      options: {
        responsive: false,
        animation: false,
        devicePixelRatio: 1,
        layout: { padding: { left: 0, top: 56, right: 410, bottom: 0 } },
        elements: { point: { radius, borderWidth: 0, hoverRadius: radius } },
        plugins: { legend: { display: false }, tooltip: { enabled: false } },
        scales: {
          x: {
            type: "linear",
            min: -16.5,
            max: 16.45,
            afterFit: (s: any) => { s.height = 108; },
            afterBuildTicks: (s: any) => { s.ticks = xTickValues.map((value) => ({ value })); },
            grid: { display: true, drawOnChartArea: false, drawTicks: true, tickLength: 7, tickColor: "#333", tickWidth: 2.5 },
            border: { display: false },
            ticks: {
              font: { size: 34, family: FONT },
              color: "#262626",
              padding: 3,
              maxRotation: 0,
              callback: (v: any) => String(v).replace("-", "\u2212"),
            },
          },
          y: {
            type: "linear",
            min: -0.73,
            max: 15.72,
            afterFit: (s: any) => { s.width = 143; },
            afterBuildTicks: (s: any) => { s.ticks = yTickValues.map((value) => ({ value })); },
            grid: { display: true, drawOnChartArea: false, drawTicks: true, tickLength: 7, tickColor: "#333", tickWidth: 2.5 },
            border: { display: false },
            ticks: { font: { size: 34, family: FONT }, color: "#262626", padding: 11 },
          },
        },
      },
      plugins: [volcanoPlugin as any],
    });

    const pie = new Chart(pieRef.current!, {
      type: "pie",
      data: {
        labels: pieCategories,
        datasets: [{ data: pieValues, backgroundColor: pieColors, borderWidth: 0 }],
      },
      options: {
        responsive: false,
        animation: false,
        devicePixelRatio: 1,
        plugins: { legend: { display: false }, tooltip: { enabled: false } },
      },
      plugins: [pie3dPlugin as any],
    });
    return () => {
      volcano.destroy();
      pie.destroy();
    };
  }, []);

  return (
    <div style={{ position: "absolute", left: 0, top: 0, width: 1913, height: 1886, background: "#fff", overflow: "hidden" }}>
      <canvas ref={volcRef} width={1250} height={860} style={{ position: "absolute", left: VOLC_LEFT, top: 0, filter: "blur(0.6px)" }} />
      <canvas ref={pieRef} width={1913} height={1026} style={{ position: "absolute", left: 0, top: PIE_TOP, filter: "blur(0.6px)" }} />
    </div>
  );
}
